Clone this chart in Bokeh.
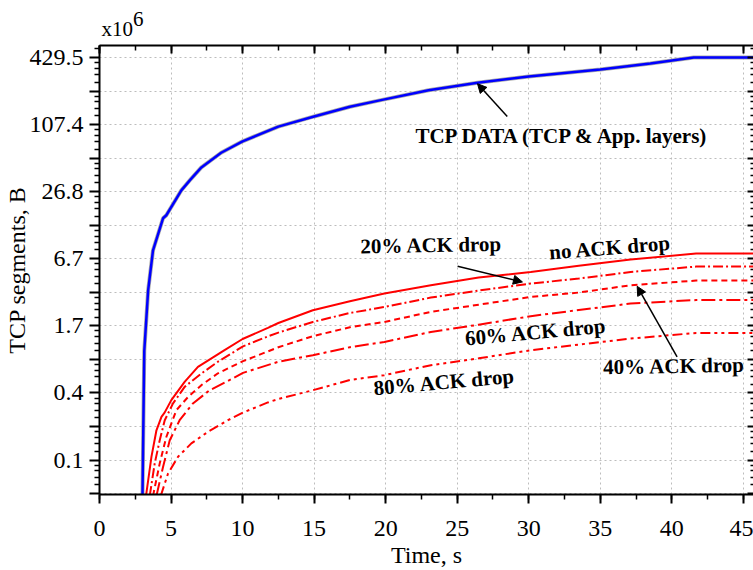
from bokeh.plotting import figure
from bokeh.models import (Range1d, LinearAxis, LogAxis, FixedTicker, SingleIntervalTicker,
                          CustomJSTickFormatter, Arrow, NormalHead, Label)
from bokeh.embed import file_html
from bokeh.resources import INLINE

# ---- data (TCP segments in units of 1e6 B vs time in s) ----
t_data = [3.0, 3.09, 3.13, 3.40, 3.74, 4.44, 4.67, 5.72, 6.4, 7.12, 8.5, 10.0, 12.5, 15.0, 17.5,
          19.67, 23.0, 26.42, 30.0, 35.0, 38.5, 41.53, 46.0]
tcp_data = [0.045, 0.4, 1.0, 3.5, 8.0, 15.5, 16.5, 27.6, 35.0, 44.3, 60.0, 76.0, 103.0, 127.0, 155.0,
            178.0, 218.0, 255.0, 290.0, 335.0, 380.0, 429.5, 429.5]

t_no_ack = [3.25, 3.63, 3.98, 4.33, 4.56, 5.02, 5.95, 6.88, 8.74, 10.0, 11.77, 12.5, 14.91, 17.5,
            19.91, 23.16, 26.5, 30.14, 33.5, 37.12, 41.7, 46.0]
no_ack = [0.05, 0.112, 0.194, 0.256, 0.281, 0.362, 0.528, 0.72, 1.015, 1.28, 1.61, 1.78, 2.32, 2.79,
          3.27, 3.88, 4.55, 5.11, 5.8, 6.6, 7.47, 7.47]

t_ack20 = [3.51, 3.86, 4.21, 4.56, 5.14, 5.95, 7.12, 8.28, 10.03, 11.77, 12.5, 14.91, 17.5, 19.91,
           23.16, 26.5, 30.14, 33.5, 37.12, 41.7, 46.0]
ack20 = [0.05, 0.098, 0.158, 0.239, 0.338, 0.476, 0.627, 0.80, 1.10, 1.35, 1.46, 1.82, 2.19, 2.48,
         3.01, 3.48, 4.02, 4.46, 5.11, 5.71, 5.71]

t_ack40 = [3.74, 4.21, 4.67, 5.37, 6.19, 7.12, 8.28, 10.03, 11.77, 12.5, 14.91, 17.5, 19.91, 23.16,
           26.5, 30.14, 33.5, 37.12, 41.7, 46.0]
ack40 = [0.05, 0.098, 0.169, 0.294, 0.386, 0.493, 0.63, 0.81, 0.99, 1.08, 1.355, 1.63, 1.82, 2.24,
         2.60, 3.05, 3.34, 3.88, 4.28, 4.28]

t_ack60 = [3.98, 4.44, 4.91, 5.60, 6.53, 7.70, 8.86, 10.03, 12.5, 14.91, 17.5, 19.91, 23.16, 26.5,
           30.14, 33.5, 37.12, 41.7, 46.0]
ack60 = [0.05, 0.091, 0.158, 0.239, 0.338, 0.444, 0.528, 0.635, 0.80, 0.915, 1.08, 1.204, 1.48, 1.72,
         2.05, 2.33, 2.66, 2.86, 2.86]

t_ack80 = [4.28, 4.79, 5.49, 6.42, 7.58, 8.98, 10.03, 11.77, 12.5, 14.91, 17.5, 19.91, 23.16, 26.5,
           30.14, 33.5, 37.12, 41.7, 46.0]
ack80 = [0.05, 0.0795, 0.1124, 0.148, 0.188, 0.239, 0.28, 0.345, 0.37, 0.444, 0.548, 0.606, 0.745,
         0.858, 1.015, 1.14, 1.29, 1.45, 1.45]

# y ticks: powers of two of the top value; every other one is labelled
y_top_tick = 429.4967296
y_tick_values = [y_top_tick / 2 ** k for k in range(14)]
y_tick_labels = ["429.5", "107.4", "26.8", "6.7", "1.7", "0.4", "0.1"]

FONT = "Liberation Serif"
BLACK = "#000000"

p = figure(width=753, height=570,
           x_range=Range1d(0, 45.71), y_range=Range1d(0.0515, 550),
           y_axis_type="log", output_backend="svg", toolbar_location=None,
           min_border_left=98, min_border_right=0, min_border_top=45, min_border_bottom=75,
           background_fill_color="white", border_fill_color="white")
p.outline_line_color = None

# multiplier above the left corner of the frame: exponent on a raised first line
p.title.text = "\u00a0" * 6 + "6\nx10"
p.title.align = "left"
p.title.offset = 2
p.title.standoff = 8
p.title.text_font = FONT
p.title.text_font_size = "21px"
p.title.text_font_style = "normal"
p.title.text_line_height = 0.42
p.title.text_color = BLACK

# tickers
x_ticker = SingleIntervalTicker(interval=5, num_minor_ticks=2)
y_minor = [v * f for v in y_tick_values for f in (1.2, 1.4, 1.6, 1.8)]
y_ticker = FixedTicker(ticks=y_tick_values, minor_ticks=y_minor)

overrides = {}
for k, v in enumerate(y_tick_values):
    overrides[v] = y_tick_labels[k // 2] if k % 2 == 0 and k // 2 < len(y_tick_labels) else ""


def style_axis(ax, tick_in, tick_out, minor_in, minor_out):
    ax.axis_line_color = BLACK
    ax.axis_line_width = 2
    ax.major_tick_line_color = BLACK
    ax.major_tick_line_width = 2
    ax.minor_tick_line_color = BLACK
    ax.minor_tick_line_width = 1.5
    ax.major_tick_in = tick_in
    ax.major_tick_out = tick_out
    ax.minor_tick_in = minor_in
    ax.minor_tick_out = minor_out
    ax.major_label_text_font = FONT
    ax.major_label_text_font_size = "24px"
    ax.major_label_text_color = BLACK
    ax.axis_label_text_font = FONT
    ax.axis_label_text_font_size = "24px"
    ax.axis_label_text_font_style = "normal"
    ax.axis_label_text_color = BLACK


# bottom axis
xb = p.xaxis[0]
xb.ticker = x_ticker
style_axis(xb, 0, 9, 0, 5)
xb.major_label_standoff = 17
xb.axis_label = "Time, s"
xb.axis_label_standoff = 3

# left axis
yl = p.yaxis[0]
yl.ticker = y_ticker
style_axis(yl, 0, 10, 0, 5)
yl.major_label_overrides = overrides
yl.major_label_standoff = 6
yl.axis_label = "TCP segments, B"
yl.axis_label_standoff = -3

blank = CustomJSTickFormatter(code="return ''")

# top axis (ticks only)
xt = LinearAxis(ticker=x_ticker, formatter=blank)
style_axis(xt, 8, 0, 5, 0)
xt.major_label_text_font_size = "0px"
xt.major_label_standoff = 0
p.add_layout(xt, "above")

# right axis (ticks only)
yr = LogAxis(ticker=y_ticker, formatter=blank)
style_axis(yr, 6, 0, 3, 0)
yr.axis_line_color = None
yr.major_label_text_font_size = "0px"
yr.major_label_standoff = 0
p.add_layout(yr, "right")

# dotted grid
p.xgrid.ticker = x_ticker
p.ygrid.ticker = y_ticker
for g in (p.xgrid, p.ygrid):
    g.grid_line_color = "#bdbdbd"
    g.grid_line_dash = "2 3"
    g.grid_line_width = 1

# curves
p.line(t_data, tcp_data, line_color="#a9a9a9", line_width=4)
p.line(t_data, tcp_data, line_color="#0000ff", line_width=2.5)

RED = "#ff0000"
p.line(t_ack80, ack80, line_color=RED, line_width=2, line_dash="10 4 3 4 3 4")
p.line(t_ack60, ack60, line_color=RED, line_width=2, line_dash="14 4 3 4")
p.line(t_ack40, ack40, line_color=RED, line_width=2, line_dash="6 4")
p.line(t_ack20, ack20, line_color=RED, line_width=2, line_dash="10 3 2 3")
p.line(t_no_ack, no_ack, line_color=RED, line_width=2)

# curve annotations
notes = [
    ("TCP DATA (TCP & App. layers)", 32.41, 84.2, 0.0),
    ("20% ACK drop", 23.19, 8.89, 1.0),
    ("no ACK drop", 35.69, 8.44, 4.6),
    ("60% ACK drop", 30.49, 1.476, 5.2),
    ("40% ACK drop", 40.16, 0.732, 1.0),
    ("80% ACK drop", 24.10, 0.526, 5.0),
]
for txt, nx, ny, ang in notes:
    p.add_layout(Label(x=nx, y=ny, text=txt, angle=ang, angle_units="deg",
                       text_align="center", text_baseline="middle",
                       text_font=FONT, text_font_size="21px", text_font_style="bold",
                       text_color=BLACK))

arrows = [
    (28.50, 127.1, 26.42, 249.6),
    (25.03, 5.75, 29.56, 4.16),
    (40.37, 0.884, 37.58, 3.80),
]
for xs, ys, xe, ye in arrows:
    p.add_layout(Arrow(x_start=xs, y_start=ys, x_end=xe, y_end=ye,
                       line_color=BLACK, line_width=1.5,
                       end=NormalHead(size=9, fill_color=BLACK, line_color=BLACK, line_width=1)))

open("out.html", "w").write(file_html(p, INLINE))
